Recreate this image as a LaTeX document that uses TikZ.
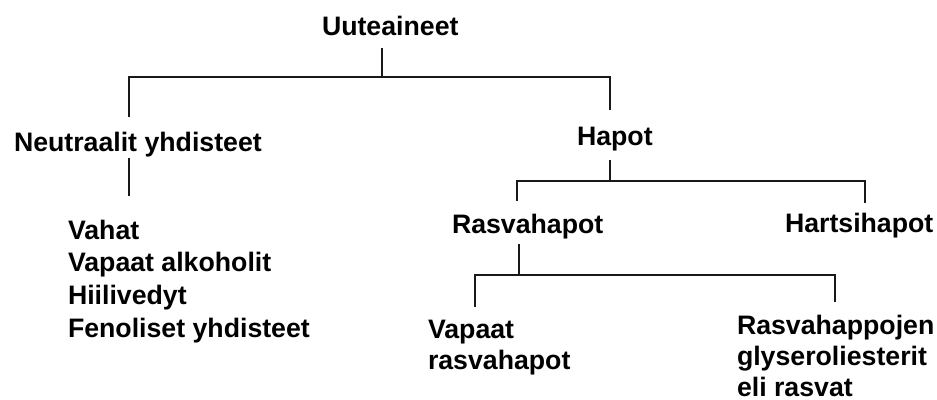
\documentclass[tikz,border=0pt]{standalone}
\usepackage{fontspec}
\setmainfont{Liberation Sans}
\begin{document}
\begin{tikzpicture}[x=1pt,y=-1pt,
  lbl/.style={anchor=base west,inner sep=0pt,outer sep=0pt,text=black,
    font=\fontsize{26.7}{#1}\selectfont\bfseries},
  lbl/.default=32.7,
  conn/.style={draw=black!90,line width=2pt,line join=miter}]
\useasboundingbox (0,0) rectangle (937,399);
\fill[white] (0,0) rectangle (937,399);
% texts
\node[lbl] (u) at (322,35.5) {Uuteaineet};
\node[lbl] (n) at (14,151) {Neutraalit yhdisteet};
\node[lbl=32.7] (nl) at (68,239) {\begin{tabular}[t]{@{}l@{}}Vahat\\Vapaat alkoholit\\Hiilivedyt\\Fenoliset yhdisteet\end{tabular}};
\node[lbl] (h) at (577,145) {Hapot};
\node[lbl] (r) at (452,233.5) {Rasvahapot};
\node[lbl] (ha) at (785,232.5) {Hartsihapot};
\node[lbl=31] (v) at (428,338) {\begin{tabular}[t]{@{}l@{}}Vapaat\\rasvahapot\end{tabular}};
\node[lbl=31] (g) at (737,334) {\begin{tabular}[t]{@{}l@{}}Rasvahappojen\\glyseroliesterit\\eli rasvat\end{tabular}};
% connector ends
\coordinate (uS) at (382,48);
\coordinate (uJ) at (382,77);
\coordinate (nN) at (129,117);
\coordinate (hN) at (610,110);
\coordinate (nS) at (129,158);
\coordinate (nlN) at (129,196);
\coordinate (hS) at (610,160);
\coordinate (hJ) at (610,181);
\coordinate (rN) at (517,201);
\coordinate (haN) at (865,203);
\coordinate (rS) at (519,244);
\coordinate (rJ) at (519,275);
\coordinate (vN) at (475,307);
\coordinate (gN) at (835,302);
% connectors
\draw[conn] (uS) -- (uJ);
\draw[conn] (nN) |- (uJ) -| (hN);
\draw[conn] (nS) -- (nlN);
\draw[conn] (hS) -- (hJ);
\draw[conn] (rN) |- (hJ) -| (haN);
\draw[conn] (rS) -- (rJ);
\draw[conn] (vN) |- (rJ) -| (gN);
\end{tikzpicture}
\end{document}
